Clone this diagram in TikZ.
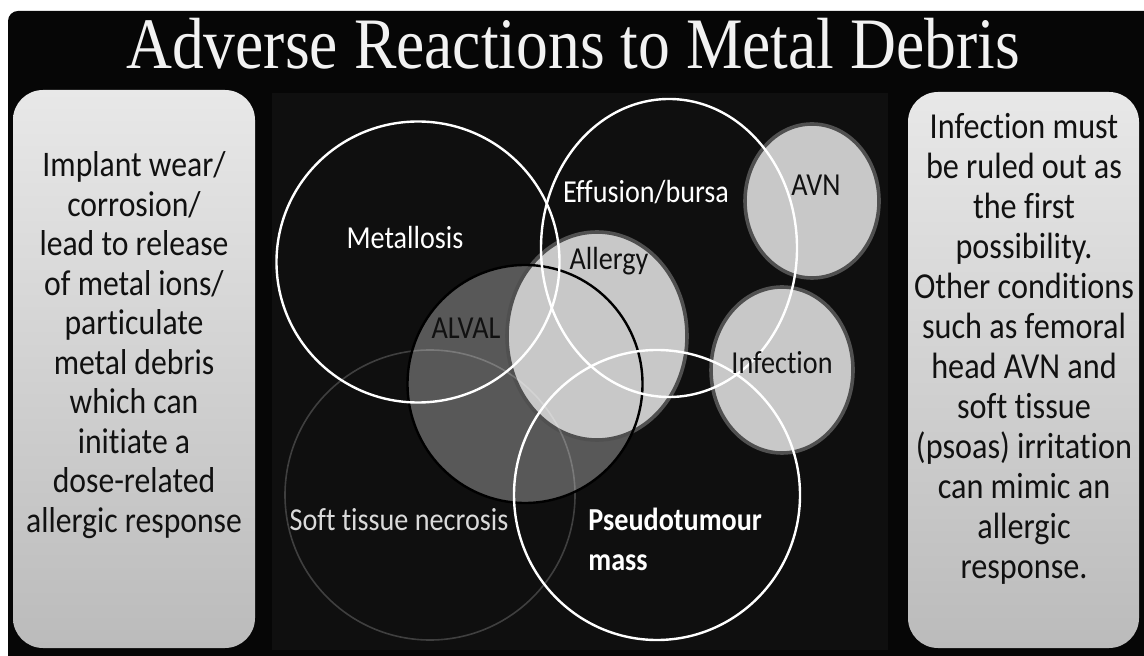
\documentclass[tikz,border=0pt]{standalone}
\usepackage{fontspec}
\setmainfont{Carlito}
\newfontfamily\calib[FakeStretch=0.88, Ligatures={NoCommon, NoRare, NoContextual}]{Carlito}
\newfontfamily\titlefont[FakeStretch=0.877]{Liberation Serif}
\usetikzlibrary{shapes.geometric}
\definecolor{bgblack}{HTML}{060606}
\definecolor{panelblack}{HTML}{0F0F0F}
\definecolor{lightfill}{HTML}{C8C8C8}
\definecolor{rimgray}{HTML}{505050}
\definecolor{alvalgray}{HTML}{585858}
\definecolor{boxtop}{HTML}{E8E8E8}
\definecolor{boxbot}{HTML}{BBBBBB}
\definecolor{ink}{HTML}{111111}
\definecolor{softgray}{HTML}{DADADA}
\definecolor{titlewhite}{HTML}{F2F2F2}
\begin{document}
\begin{tikzpicture}[x=0.5pt,y=-0.5pt,
  ring/.style={ellipse, inner sep=0pt, outer sep=0pt},
  whitering/.style={ring, draw=white, line width=1.2pt},
  lightdisc/.style={ring, fill=lightfill, draw=rimgray, line width=1.8pt},
  sidebox/.style={rectangle, rounded corners=15pt, top color=boxtop, bottom color=boxbot, draw=none, inner sep=0pt},
  sidetext/.style={align=center, text=ink, inner sep=0pt, font=\calib\fontsize{18pt}{19.75pt}\selectfont},
  lab/.style={inner sep=0pt, font=\calib\fontsize{16pt}{20pt}\selectfont},
]
\useasboundingbox (0,0) rectangle (1144,656);
% background
\fill[white] (0,0) rectangle (1144,656);
\fill[bgblack, rounded corners=5pt] (8,11) rectangle (1180,700);
\fill[panelblack] (272,93) rectangle (888,650);

% side boxes
\node[sidebox, minimum width=121pt, minimum height=279pt] (lbox) at (134,369) {};
\node[sidebox, minimum width=115.5pt, minimum height=278pt] (rbox) at (1023.5,370) {};

% title
\node[anchor=base, text=titlewhite, inner sep=0pt, font=\titlefont\fontsize{36.25pt}{40pt}\selectfont] (title) at (573,69) {Adverse Reactions to Metal Debris};

% side texts
\node[sidetext] (ltext) at (134,345) {Implant wear/\\corrosion/\\lead to release\\of metal ions/\\particulate\\metal debris\\which can\\initiate a\\dose-related\\allergic response};
\node[sidetext, font=\calib\fontsize{18.3pt}{20pt}\selectfont] (rtext) at (1024,349) {Infection must\\be ruled out as\\the first\\possibility.\\Other conditions\\such as femoral\\head AVN and\\soft tissue\\(psoas) irritation\\can mimic an\\allergic\\response.};

% filled discs
\node[ring, fill=alvalgray, minimum width=117.5pt, minimum height=119pt] (alvalfill) at (525,384) {};
\node[lightdisc, minimum width=90pt, minimum height=104pt] (allergy) at (597,336) {};
\node[lightdisc, minimum width=67pt, minimum height=77pt] (avn) at (812,201) {};
\node[lightdisc, minimum width=71pt, minimum height=83pt] (infection) at (782,370) {};

% outlines
\node[ring, draw=white, draw opacity=0.2, line width=0.8pt, minimum width=145pt, minimum height=145pt] (soft) at (430,495) {};
\node[ring, draw=black, line width=1.2pt, minimum width=117.5pt, minimum height=119pt] (alval) at (525,384) {};
\node[whitering, minimum width=141.5pt, minimum height=140.5pt] (metallosis) at (418,262) {};
\node[whitering, minimum width=128pt, minimum height=149pt] (effusion) at (669,248) {};
\node[whitering, minimum width=143pt, minimum height=145pt] (pseudo) at (657,495) {};

% labels
\node[lab, text=white] (lmet) at (405,238) {Metallosis};
\node[lab, text=white] (leff) at (646,192) {Effusion/bursa};
\node[lab, text=ink] (lall) at (609,261) {Allergy};
\node[lab, text=ink] (lavn) at (816,185) {AVN};
\node[lab, text=ink] (lalval) at (466,328) {ALVAL};
\node[lab, text=ink] (linf) at (782,363) {Infection};
\node[lab, text=softgray] (lsoft) at (399,520) {Soft tissue necrosis};
\node[lab, text=white, anchor=west, align=left, font=\calib\bfseries\fontsize{16pt}{20pt}\selectfont] (lpseudo) at (588,539) {Pseudotumour\\mass};
\end{tikzpicture}
\end{document}
